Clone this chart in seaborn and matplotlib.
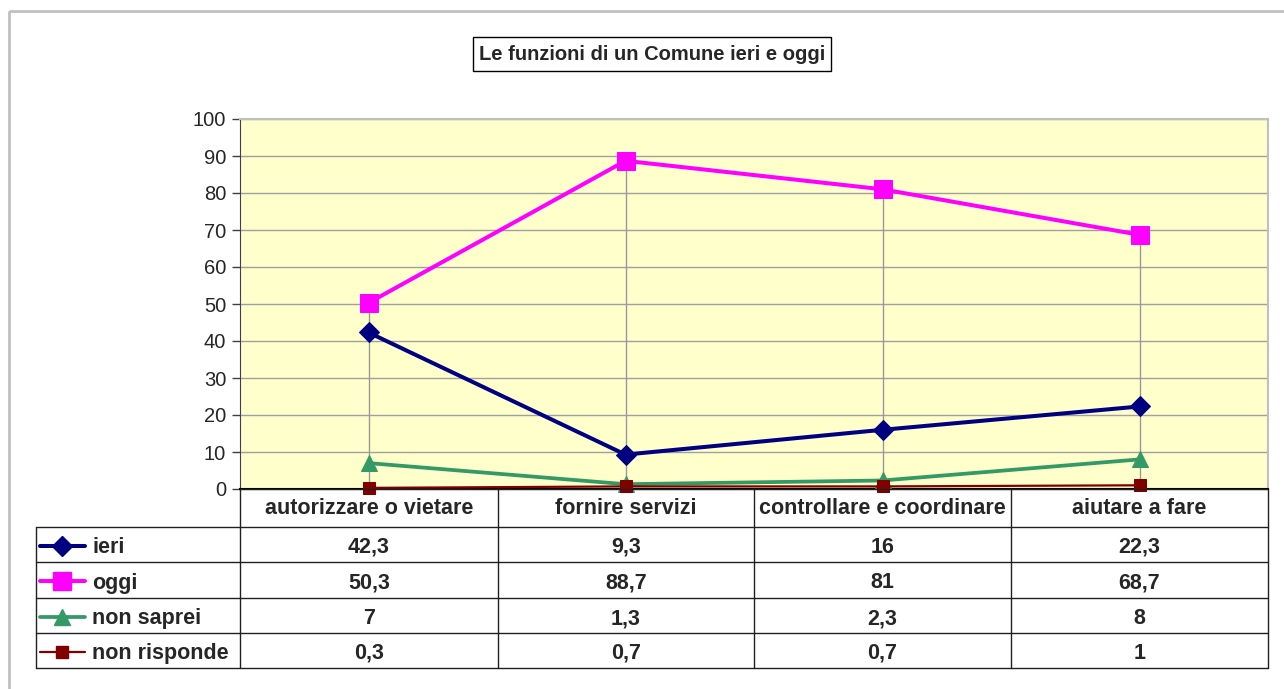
import numpy as np
import pandas as pd
import matplotlib
matplotlib.use("Agg")
import matplotlib.pyplot as plt
from matplotlib.lines import Line2D
from matplotlib.patches import Rectangle
import seaborn as sns

categories = ["autorizzare o vietare", "fornire servizi",
              "controllare e coordinare", "aiutare a fare"]
ieri = [42.3, 9.3, 16, 22.3]
oggi = [50.3, 88.7, 81, 68.7]
non_saprei = [7, 1.3, 2.3, 8]
non_risponde = [0.3, 0.7, 0.7, 1]

series_names = ["ieri", "oggi", "non saprei", "non risponde"]
series_values = [ieri, oggi, non_saprei, non_risponde]
colors = ["#000080", "#FF00FF", "#339966", "#800000"]
markers = ["D", "s", "^", "s"]
msizes = [10.5, 12.5, 12, 9]
lwidths = [2.9, 2.9, 2.7, 1.6]

sns.set_style("white")
plt.rcParams["font.family"] = ["Liberation Sans", "DejaVu Sans"]

W, H = 1284, 689
fig = plt.figure(figsize=(W / 100, H / 100), dpi=100)

# plot area (pixel box 240..1268 x 119..489)
L, R, T, B = 240, 1268, 119, 489
ax = fig.add_axes([L / W, 1 - B / H, (R - L) / W, (B - T) / H])
ax.set_facecolor("#FFFFCC")

x = np.arange(len(categories))
df = pd.DataFrame({"x": np.tile(x, len(series_names)),
                   "value": np.concatenate(series_values),
                   "serie": np.repeat(series_names, len(categories))})

# high-low lines
arr = np.array(series_values)
ax.vlines(x, arr.min(axis=0), arr.max(axis=0), color="#999999", lw=1, zorder=1)

for name, c, m, ms, lw in zip(series_names, colors, markers, msizes, lwidths):
    sub = df[df["serie"] == name]
    sns.lineplot(data=sub, x="x", y="value", ax=ax, color=c, marker=m,
                 markersize=ms, markeredgecolor=c, linewidth=lw, zorder=3,
                 clip_on=False)

ax.set_xlim(-0.5, len(categories) - 0.5)
ax.set_ylim(0, 100)
ax.set_yticks(range(0, 101, 10))
ax.set_xticks([])
ax.set_xlabel("")
ax.set_ylabel("")
ax.yaxis.grid(True, color="#A0A0A0", lw=1)
ax.set_axisbelow(True)
ax.tick_params(axis="y", direction="out", length=6, width=1, color="#404040",
               labelsize=14.5, pad=4, left=True)
for s in ["top", "right"]:
    ax.spines[s].set_color("#C0C0C0")
    ax.spines[s].set_linewidth(1.5)
ax.spines["left"].set_color("#404040")
ax.spines["bottom"].set_color("black")
ax.spines["bottom"].set_linewidth(1.5)

# overlay in pixel coordinates for table, title, frame
ov = fig.add_axes([0, 0, 1, 1], zorder=5)
ov.set_xlim(0, W)
ov.set_ylim(H, 0)
ov.axis("off")

ov.add_patch(Rectangle((8.5, 10.5), W, H, fill=False, ec="#C0C0C0", lw=2))

# title box
ov.add_patch(Rectangle((473, 37), 358, 34, fill=False, ec="black", lw=1))
ov.text(652, 54.5, "Le funzioni di un Comune ieri e oggi", ha="center",
        va="center", fontsize=14.5, fontweight="bold")

# data table
cols = [240, 498, 754, 1011, 1268]
rows = [489, 527, 562, 598, 633, 668]
tl = 36
lc = "#202020"
ov.plot([L, R], [rows[0], rows[0]], color=lc, lw=1)
for cx in cols:
    ov.plot([cx, cx], [rows[0], rows[-1]], color=lc, lw=1)
for ry in rows[1:]:
    ov.plot([tl, R], [ry, ry], color=lc, lw=1)
ov.plot([tl, tl], [rows[1], rows[-1]], color=lc, lw=1)

for j, cat in enumerate(categories):
    ov.text((cols[j] + cols[j + 1]) / 2, (rows[0] + rows[1]) / 2 + 1, cat,
            ha="center", va="center", fontsize=15.5, fontweight="bold")

for i, (name, vals) in enumerate(zip(series_names, series_values)):
    cy = (rows[i + 1] + rows[i + 2]) / 2
    ov.add_line(Line2D([tl + 4, tl + 26, tl + 49], [cy + 1, cy + 1, cy + 1],
                       color=colors[i], lw=lwidths[i], marker=markers[i],
                       markevery=[1], markersize=msizes[i],
                       markeredgecolor=colors[i]))
    ov.text(tl + 56, cy + 3, name, ha="left", va="center", fontsize=15.5,
            fontweight="bold")
    for j, v in enumerate(vals):
        label = f"{v:g}".replace(".", ",")
        ov.text((cols[j] + cols[j + 1]) / 2, cy + 3, label, ha="center",
                va="center", fontsize=15.5, fontweight="bold")

fig.savefig("out.png", dpi=100)
